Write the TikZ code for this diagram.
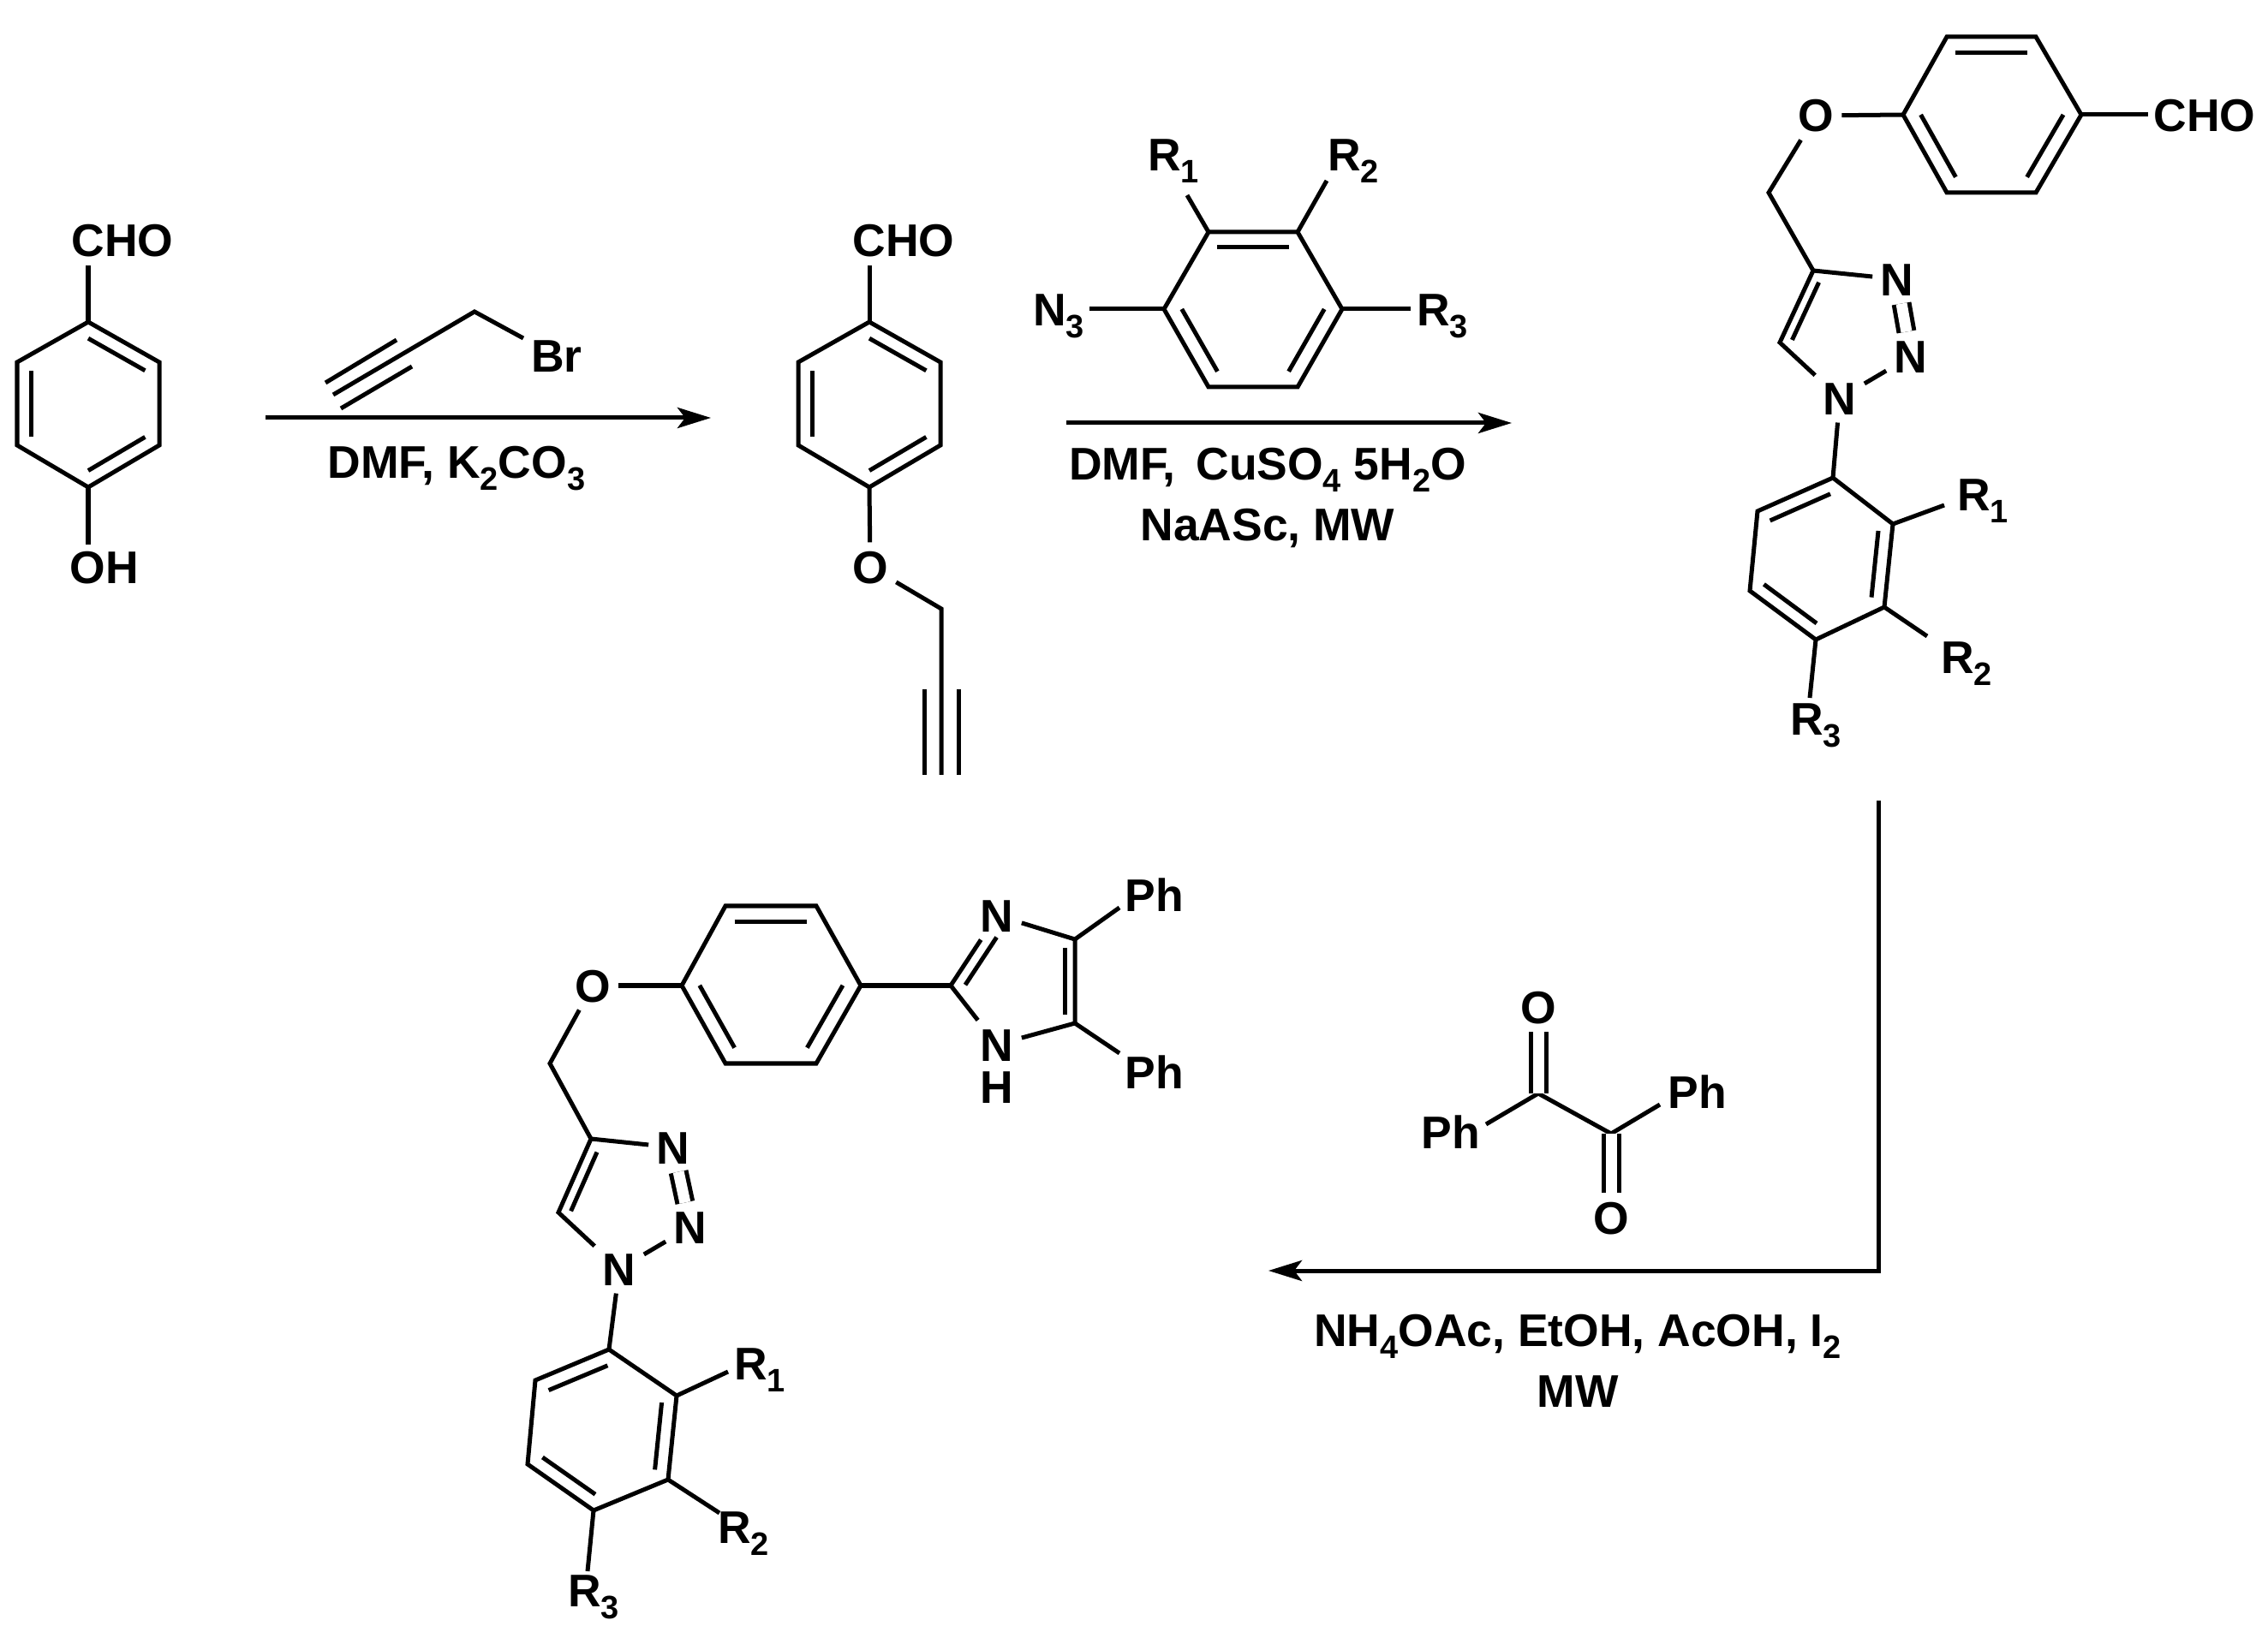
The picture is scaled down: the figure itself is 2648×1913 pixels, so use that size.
\documentclass[tikz,border=0pt]{standalone}
\usepackage{fontspec}
\setmainfont{Liberation Sans}
\usetikzlibrary{arrows.meta,calc}
\newcommand{\subn}[1]{\raisebox{-.28em}{\fontsize{10.8}{12}\selectfont #1}}
% inner line of a double bond, pulled towards the ring centre
\newcommand{\inbond}[4][]{\draw[#1] ($(#2)!.2!(#4)$) -- ($(#3)!.2!(#4)$);}
\tikzset{
  lbl/.style={font=\fontsize{15.2}{18}\selectfont\bfseries, text height=.38cm, text depth=0pt, inner sep=2pt},
  rxn/.style={-{Stealth[length=.39cm,width=.24cm,inset=.09cm]}},
  dbl/.style={double, double distance=.13cm}
}
\begin{document}
\begin{tikzpicture}[x=.01cm,y=-.01cm,line width=.05cm,line join=miter]
    \useasboundingbox (0,0) rectangle (2648,1913);

    % Nodes: 4-hydroxybenzaldehyde
    \coordinate (a1) at (103,376);
    \coordinate (a2) at (186,423);
    \coordinate (a3) at (186,520);
    \coordinate (a4) at (103,569);
    \coordinate (a5) at (20,520);
    \coordinate (a6) at (20,423);
    \coordinate (actr) at (103,472);
    \coordinate (acho) at (103,310);
    \node (cho1) [lbl] at (143,280) {CHO};
    \node (oh1) [lbl,inner sep=4pt] at (122,662) {OH};
    \coordinate (aoh) at (103,636);

    % Nodes: propargyl bromide
    \coordinate (p1) at (554,364);
    \coordinate (p2) at (389,461);
    \coordinate (p3) at (380,447);
    \coordinate (p4) at (463,397);
    \coordinate (p5) at (398,477);
    \coordinate (p6) at (481,428);
    \coordinate (pbr) at (611,395);
    \node (br) [lbl] at (650,415) {Br};

    % Nodes: first arrow
    \coordinate (r1s) at (310,488);
    \coordinate (r1e) at (830,488);
    \node (cond1) [lbl] at (533,539) {DMF, K\subn{2}CO\subn{3}};

    % Nodes: propargyl ether
    \coordinate (b1) at (1015,376);
    \coordinate (b2) at (1098,423);
    \coordinate (b3) at (1098,520);
    \coordinate (b4) at (1015,569);
    \coordinate (b5) at (932,520);
    \coordinate (b6) at (932,423);
    \coordinate (bctr) at (1015,472);
    \coordinate (bcho) at (1015,310);
    \node (cho2) [lbl] at (1055,280) {CHO};
    \node (o2) [lbl] at (1016,662) {O};
    \coordinate (bch) at (1099,711);
    \coordinate (bt1) at (1099,905);
    \coordinate (bt2) at (1079,805);
    \coordinate (bt3) at (1079,905);
    \coordinate (bt4) at (1119,805);
    \coordinate (bt5) at (1119,905);

    % Nodes: aryl azide
    \coordinate (c1) at (1411,271);
    \coordinate (c2) at (1515,271);
    \coordinate (c3) at (1567,361);
    \coordinate (c4) at (1515,452);
    \coordinate (c5) at (1411,452);
    \coordinate (c6) at (1359,361);
    \coordinate (cctr) at (1463,361);
    \coordinate (cr1) at (1386,228);
    \coordinate (cr2) at (1549,211);
    \coordinate (cn3) at (1272,361);
    \coordinate (cr3) at (1647,361);
    \node (r1a) [lbl] at (1370,180) {R\subn{1}};
    \node (r2a) [lbl] at (1580,180) {R\subn{2}};
    \node (n3a) [lbl] at (1236,361) {N\subn{3}};
    \node (r3a) [lbl] at (1684,361) {R\subn{3}};

    % Nodes: second arrow
    \coordinate (r2s) at (1245,494);
    \coordinate (r2e) at (1765,494);
    \node (cond2) [lbl] at (1480,541) {DMF, \,CuSO\subn{4} 5H\subn{2}O};
    \node (cond3) [lbl] at (1480,612) {NaASc, MW};

    % Nodes: triazole aldehyde
    \coordinate (d1) at (2222,134);
    \coordinate (d2) at (2273,43);
    \coordinate (d3) at (2377,43);
    \coordinate (d4) at (2430,134);
    \coordinate (d5) at (2377,225);
    \coordinate (d6) at (2273,225);
    \coordinate (dctr) at (2325,134);
    \coordinate (dcho) at (2508,134);
    \node (cho3) [lbl] at (2574,134) {CHO};
    \node (o3) [lbl] at (2120,135) {O};
    \coordinate (dch) at (2065,225);
    \coordinate (t1) at (2117,316);
    \coordinate (t2) at (2078,400);
    \coordinate (tctr) at (2150,385);
    \node (n1a) [lbl] at (2148,465) {N};
    \node (n2a) [lbl] at (2231,416) {N};
    \node (n3b) [lbl] at (2215,326) {N};
    \coordinate (e1) at (2140,558);
    \coordinate (e2) at (2210,612);
    \coordinate (e3) at (2200,709);
    \coordinate (e4) at (2120,747);
    \coordinate (e5) at (2043,690);
    \coordinate (e6) at (2052,597);
    \coordinate (ectr) at (2125,652);
    \coordinate (er1) at (2270,590);
    \coordinate (er2) at (2250,743);
    \coordinate (er3) at (2113,815);
    \node (r1b) [lbl] at (2315,577) {R\subn{1}};
    \node (r2b) [lbl] at (2296,767) {R\subn{2}};
    \node (r3b) [lbl] at (2120,839) {R\subn{3}};

    % Nodes: benzil and third arrow
    \coordinate (f1) at (1796,1277);
    \coordinate (f2) at (1881,1324);
    \node (o4) [lbl] at (1796,1176) {O};
    \node (o5) [lbl] at (1881,1422) {O};
    \coordinate (fph1) at (1735,1313);
    \coordinate (fph2) at (1938,1290);
    \node (ph1) [lbl] at (1694,1322) {Ph};
    \node (ph2) [lbl] at (1982,1275) {Ph};
    \coordinate (r3s) at (2193,935);
    \coordinate (r3c) at (2193,1484);
    \coordinate (r3e) at (1481,1484);
    \node (cond4) [lbl] at (1842,1553) {NH\subn{4}OAc, EtOH, AcOH, I\subn{2}};
    \node (cond5) [lbl] at (1842,1624) {MW};

    % Nodes: final imidazole
    \coordinate (g1) at (796,1151);
    \coordinate (g2) at (847,1058);
    \coordinate (g3) at (953,1058);
    \coordinate (g4) at (1005,1151);
    \coordinate (g5) at (953,1242);
    \coordinate (g6) at (847,1242);
    \coordinate (gctr) at (900,1150);
    \node (o6) [lbl] at (692,1151) {O};
    \coordinate (gch) at (642,1242);
    \coordinate (s1) at (690,1330);
    \coordinate (s2) at (652,1416);
    \coordinate (sctr) at (725,1408);
    \node (n1c) [lbl] at (723,1482) {N};
    \node (n2c) [lbl] at (806,1433) {N};
    \node (n3c) [lbl] at (786,1340) {N};
    \coordinate (h1) at (711,1576);
    \coordinate (h2) at (790,1630);
    \coordinate (h3) at (780,1728);
    \coordinate (h4) at (693,1764);
    \coordinate (h5) at (616,1710);
    \coordinate (h6) at (625,1612);
    \coordinate (hctr) at (703,1670);
    \coordinate (hr1) at (850,1602);
    \coordinate (hr2) at (840,1767);
    \coordinate (hr3) at (686,1835);
    \node (r1c) [lbl] at (887,1592) {R\subn{1}};
    \node (r2c) [lbl] at (868,1783) {R\subn{2}};
    \node (r3c2) [lbl] at (693,1857) {R\subn{3}};
    \coordinate (i1) at (1110,1151);
    \coordinate (i2) at (1255,1097);
    \coordinate (i3) at (1255,1195);
    \coordinate (ictr) at (1195,1147);
    \node (n4) [lbl] at (1164,1069) {N};
    \node (n5) [lbl] at (1164,1220) {N};
    \node (h7) [lbl,inner sep=0pt] at (1164,1269) {H};
    \coordinate (iph1) at (1307,1060);
    \coordinate (iph2) at (1307,1230);
    \node (ph3) [lbl] at (1348,1045) {Ph};
    \node (ph4) [lbl] at (1348,1252) {Ph};

    % Bonds: 4-hydroxybenzaldehyde
    \draw (a1) -- (a2) -- (a3) -- (a4) -- (a5) -- (a6) -- cycle;
    \inbond{a1}{a2}{actr}
    \inbond{a3}{a4}{actr}
    \inbond{a5}{a6}{actr}
    \draw (a1) -- (acho);
    \draw (a4) -- (aoh);

    % Bonds: propargyl bromide
    \draw (pbr) -- (p1) -- (p2);
    \draw (p3) -- (p4);
    \draw (p5) -- (p6);

    % Bonds: propargyl ether
    \draw (b1) -- (b2) -- (b3) -- (b4) -- (b5) -- (b6) -- cycle;
    \inbond{b1}{b2}{bctr}
    \inbond{b3}{b4}{bctr}
    \inbond{b5}{b6}{bctr}
    \draw (b1) -- (bcho);
    \draw (b4) -- (o2);
    \draw (o2) -- (bch) -- (bt1);
    \draw (bt2) -- (bt3);
    \draw (bt4) -- (bt5);

    % Bonds: aryl azide
    \draw (c1) -- (c2) -- (c3) -- (c4) -- (c5) -- (c6) -- cycle;
    \inbond{c1}{c2}{cctr}
    \inbond{c3}{c4}{cctr}
    \inbond{c5}{c6}{cctr}
    \draw (c1) -- (cr1);
    \draw (c2) -- (cr2);
    \draw (c6) -- (cn3);
    \draw (c3) -- (cr3);

    % Bonds: triazole aldehyde
    \draw (d1) -- (d2) -- (d3) -- (d4) -- (d5) -- (d6) -- cycle;
    \inbond{d2}{d3}{dctr}
    \inbond{d4}{d5}{dctr}
    \inbond{d6}{d1}{dctr}
    \draw (d4) -- (dcho);
    \draw (d1) -- (o3);
    \draw (o3) -- (dch) -- (t1) -- (t2) -- (n1a);
    \inbond{t1}{t2}{tctr}
    \draw (t1) -- (n3b);
    \draw[dbl] (n3b) -- (n2a);
    \draw (n2a) -- (n1a);
    \draw (n1a) -- (e1);
    \draw (e1) -- (e2) -- (e3) -- (e4) -- (e5) -- (e6) -- cycle;
    \inbond{e1}{e6}{ectr}
    \inbond{e2}{e3}{ectr}
    \inbond{e4}{e5}{ectr}
    \draw (e2) -- (er1);
    \draw (e3) -- (er2);
    \draw (e4) -- (er3);

    % Bonds: benzil
    \draw (fph1) -- (f1) -- (f2) -- (fph2);
    \draw[dbl] (f1) -- (o4);
    \draw[dbl] (f2) -- (o5);

    % Bonds: final imidazole
    \draw (g1) -- (g2) -- (g3) -- (g4) -- (g5) -- (g6) -- cycle;
    \inbond{g2}{g3}{gctr}
    \inbond{g4}{g5}{gctr}
    \inbond{g6}{g1}{gctr}
    \draw (g1) -- (o6);
    \draw (o6) -- (gch) -- (s1) -- (s2) -- (n1c);
    \inbond{s1}{s2}{sctr}
    \draw (s1) -- (n3c);
    \draw[dbl] (n3c) -- (n2c);
    \draw (n2c) -- (n1c);
    \draw (n1c) -- (h1);
    \draw (h1) -- (h2) -- (h3) -- (h4) -- (h5) -- (h6) -- cycle;
    \inbond{h1}{h6}{hctr}
    \inbond{h2}{h3}{hctr}
    \inbond{h4}{h5}{hctr}
    \draw (h2) -- (hr1);
    \draw (h3) -- (hr2);
    \draw (h4) -- (hr3);
    \draw (g4) -- (i1);
    \draw (i1) -- (n4);
    \draw (i1) -- (n5);
    \inbond[shorten >=.12cm]{i1}{n4}{ictr}
    \draw (n4) -- (i2) -- (i3) -- (n5);
    \inbond{i2}{i3}{ictr}
    \draw (i2) -- (iph1);
    \draw (i3) -- (iph2);

    % Arrows
    \draw[rxn] (r1s) -- (r1e);
    \draw[rxn] (r2s) -- (r2e);
    \draw[rxn] (r3s) -- (r3c) -- (r3e);
\end{tikzpicture}
\end{document}
